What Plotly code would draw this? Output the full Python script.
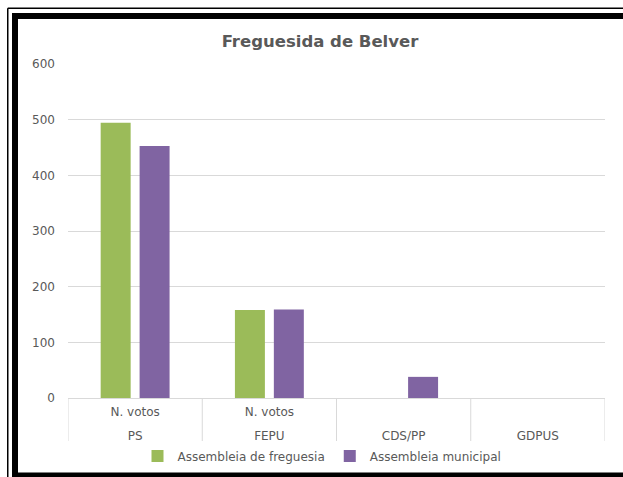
import plotly.graph_objects as go

parties = ["PS", "FEPU", "CDS/PP", "GDPUS"]
inner_labels = ["N. votos", "N. votos", "", ""]
freguesia = [495, 158, None, None]
municipal = [453, 159, 38, None]
series_names = ["Assembleia de freguesia", "Assembleia municipal"]
colors = ["#9BBB59", "#8064A2"]
y_max = 600
y_step = 100

W, H = 623, 477
# plot area in page pixels
L, R, T, B = 68, 605, 64, 398

def px(x):
    """page x pixel -> paper coordinate"""
    return (x - L) / (R - L)

def py(y):
    """page y pixel -> paper coordinate"""
    return (B - y) / (B - T)

txt = "#595959"
grid = "#d9d9d9"
font_family = "DejaVu Sans, Liberation Sans, sans-serif"

fig = go.Figure()
for name, vals, c in zip(series_names, [freguesia, municipal], colors):
    fig.add_trace(go.Bar(
        x=parties, y=vals, name=name,
        marker=dict(color=c, line=dict(width=0)),
    ))
# invisible helper trace so the second (outer-label) axis is drawn
fig.add_trace(go.Scatter(x=parties, y=[None] * len(parties), xaxis="x2",
                         showlegend=False, hoverinfo="skip", mode="markers"))

fig.update_layout(
    width=W, height=H,
    margin=dict(l=L, r=W - R, t=T, b=H - B, autoexpand=False),
    paper_bgcolor="white", plot_bgcolor="white",
    font=dict(family=font_family, size=12, color=txt),
    title=dict(text="<b>Freguesida de Belver</b>", x=320 / W, xanchor="center",
               xref="container", y=1 - 41 / H, yanchor="middle",
               font=dict(family=font_family, size=16.5, color=txt)),
    barmode="group", bargap=0.42, bargroupgap=0.23,
    legend=dict(orientation="h", x=px(322), xanchor="center",
                y=py(456), yanchor="middle",
                font=dict(size=12, color=txt), itemwidth=30,
                traceorder="normal"),
    showlegend=True,
    xaxis=dict(type="category", categoryarray=parties, categoryorder="array",
               range=[-0.5, len(parties) - 0.5],
               tickvals=parties, ticktext=inner_labels,
               showline=True, linecolor=grid, linewidth=1, showgrid=False,
               ticks="", ticklabelstandoff=3, tickfont=dict(size=12, color=txt)),
    xaxis2=dict(type="category", categoryarray=parties, categoryorder="array",
                overlaying="x", anchor="y", side="bottom",
                range=[-0.5, len(parties) - 0.5],
                tickvals=parties, ticktext=parties,
                showline=False, showgrid=False, ticks="",
                ticklabelstandoff=29, tickfont=dict(size=12, color=txt)),
    yaxis=dict(range=[0, y_max + 0.5], dtick=y_step, showgrid=True, gridcolor=grid,
               gridwidth=1, zeroline=False, showline=False,
               ticklabelstandoff=12, tickfont=dict(size=12, color=txt)),
)

shapes = []
# category dividers below the axis
for i in range(len(parties) + 1):
    shapes.append(dict(type="line", xref="x", yref="paper",
                       x0=i - 0.5, x1=i - 0.5, y0=0, y1=py(441),
                       line=dict(color=grid, width=1)))

def seg(x0, y0, x1, y1, w):
    return dict(type="line", xref="paper", yref="paper",
                x0=px(x0), x1=px(x1), y0=py(y0), y1=py(y1),
                line=dict(color="black", width=w), layer="above")

# outer thin frame line (top and left)
shapes.append(seg(7.75, 8.25, 640, 8.25, 1.5))
shapes.append(seg(7.75, 8.25, 7.75, 490, 1.5))
# thick frame (top, left, bottom)
shapes.append(seg(12, 16, 640, 16, 6))
shapes.append(seg(15, 13, 15, 490, 6))
shapes.append(seg(12, 476.5, 640, 476.5, 8))
fig.update_layout(shapes=shapes)

fig.write_html(
    "out.html",
    config=dict(displayModeBar=False),
    post_script=("document.body.style.margin='0';"
                 "document.body.style.overflow='hidden';"
                 "document.documentElement.style.overflow='hidden';"),
)
